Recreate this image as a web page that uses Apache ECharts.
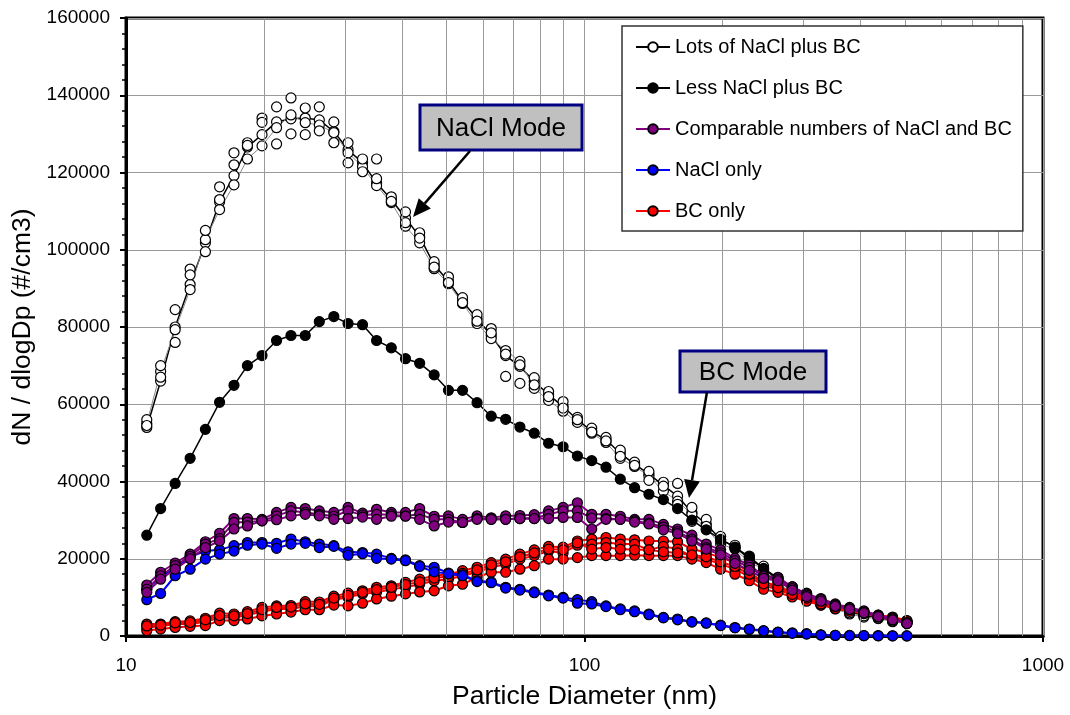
<!DOCTYPE html>
<html>
<head>
<meta charset="utf-8">
<script src="https://cdn.jsdelivr.net/npm/echarts@6/dist/echarts.min.js"></script>
<style>
html,body{margin:0;padding:0;background:#fff;}
#chart{width:1070px;height:715px;}
</style>
</head>
<body>
<div id="chart"></div>
<script>
// Particle diameters (nm)
const diameters = [11.1, 11.9, 12.8, 13.8, 14.9, 16.0, 17.2, 18.4, 19.8, 21.3, 22.9, 24.6, 26.4, 28.4, 30.5, 32.8, 35.2, 37.9, 40.7, 43.7, 47.0, 50.5, 54.2, 58.3, 62.6, 67.3, 72.3, 77.7, 83.5, 89.8, 96.5, 103.7, 111.4, 119.7, 128.6, 138.2, 148.6, 159.6, 171.5, 184.3, 198.1, 212.9, 228.8, 245.8, 264.2, 283.9, 305.1, 327.8, 352.3, 378.6, 406.8, 437.1, 469.8, 504.8];

// Lots of NaCl plus BC (scans)
const lotsA = [54000, 66000, 80000, 91000, 101800, 112400, 119200, 126600, 129800, 133100, 133900, 134100, 133600, 130600, 125900, 122500, 117300, 113000, 108200, 103400, 96100, 91800, 86600, 82200, 77800, 72600, 69800, 65900, 62500, 59400, 56000, 53000, 50800, 47300, 44500, 41900, 39000, 36200, 32000, 29000, 25000, 23000, 20000, 17600, 14400, 12200, 10600, 8600, 7400, 6200, 5400, 4700, 4100, 3500];
const lotsB = [55000, 68500, 79300, 89700, 102600, 110400, 116800, 123500, 126900, 131600, 134900, 132900, 132300, 130300, 125100, 121500, 116600, 112200, 106100, 101800, 95100, 91200, 86100, 80900, 77000, 73900, 71100, 64100, 61000, 58200, 55300, 52500, 50100, 46000, 43900, 41400, 37500, 34900, 31500, 27700, 23800, 22500, 19100, 17300, 13400, 11400, 10300, 8000, 7000, 5700, 4900, 4500, 3700, 3200];
const lotsC = [56000, 70000, 84500, 95000, 105000, 116300, 125100, 127700, 134100, 137000, 139300, 136700, 137000, 133100, 127700, 123500, 118400, 113700, 109800, 104400, 96900, 93000, 87600, 83200, 79600, 67200, 65400, 66900, 63300, 60700, 56600, 53800, 51400, 48100, 45000, 42600, 39800, 39500, 33300, 30200, 25800, 23500, 20700, 18100, 15000, 12700, 11100, 9000, 7800, 6500, 5700, 4900, 4300, 3700];
const lotsD = [54500, 67000, 76000, 93500, 99500, 113000, 122000, 127000, 133000, 127400, 130000, 129800, 130800, 127700, 122500, 120200, 123500, 112500, 107000, 103000, 95500, 91500, 86300, 81500, 78500, 73000, 70200, 65000, 62000, 59000, 56000, 52800, 50500, 46500, 44200, 40300, 38800, 34100, 29700, 28400, 24600, 22800, 19500, 17000, 14000, 11800, 10500, 8300, 7200, 6000, 5200, 4600, 3900, 3300];

// Less NaCl plus BC
const lessA = [26100, 33000, 39500, 46000, 53500, 60500, 64900, 70000, 72600, 76500, 77800, 77800, 81400, 82700, 80900, 80600, 76500, 74600, 71800, 70600, 67600, 63600, 63600, 60400, 56900, 56100, 54100, 52500, 49900, 49000, 46600, 45400, 43700, 40600, 38400, 36700, 35300, 33000, 30000, 27500, 25000, 23000, 20500, 17500, 15000, 12700, 11000, 9200, 7900, 6700, 5800, 5000, 4300, 3700];

// Comparable numbers of NaCl and BC
const compA = [13200, 16500, 18900, 21200, 24400, 26600, 30400, 30400, 30200, 32000, 33300, 33000, 32400, 32000, 33300, 31800, 32800, 32000, 32000, 33000, 31000, 31100, 30200, 31100, 30600, 31100, 31200, 31400, 32400, 33300, 34500, 31500, 31500, 31000, 30200, 30200, 28900, 27700, 26100, 23800, 22300, 20100, 18400, 15600, 15200, 12700, 10900, 9700, 8300, 7400, 6500, 5400, 4600, 3500];
const compB = [12100, 15600, 18200, 20600, 23800, 25200, 29400, 29500, 29800, 31100, 32400, 32000, 31500, 31000, 32400, 31300, 31500, 31400, 31100, 31500, 30200, 30200, 29400, 30400, 30200, 30200, 30400, 30400, 31500, 32400, 32400, 30500, 30400, 30200, 29800, 29200, 28200, 27000, 25100, 22900, 21600, 19500, 17800, 15400, 14700, 12300, 10600, 9400, 8000, 7100, 6200, 5200, 4400, 3400];
const compC = [11300, 14700, 17300, 20000, 22900, 24600, 27700, 28500, 29800, 30100, 31100, 31500, 31100, 30200, 30400, 30800, 30200, 31000, 31000, 30200, 28500, 29500, 29400, 30200, 30200, 30200, 30400, 30400, 30400, 30700, 30700, 27700, 30200, 30200, 29500, 29000, 27500, 26500, 24600, 22500, 21000, 18800, 17000, 14900, 14300, 11900, 10200, 9000, 7700, 6900, 6000, 5000, 4200, 3200];

// NaCl only
const naclA = [12100, 15300, 17500, 20500, 22000, 22300, 23400, 24200, 24200, 24000, 25100, 24400, 23800, 23400, 21800, 21600, 21200, 20100, 19700, 18200, 17800, 16300, 15800, 14300, 14000, 12600, 12100, 11400, 10600, 10000, 9400, 8900, 7800, 7000, 6500, 5700, 4800, 4400, 3700, 3400, 2800, 2200, 1800, 1400, 1000, 800, 600, 300, 200, 150, 100, 80, 50, 30];
const naclB = [9400, 11000, 15600, 17300, 19900, 21200, 22000, 23500, 23800, 22700, 23800, 24000, 22900, 23200, 20900, 21300, 20100, 19900, 19500, 18000, 16600, 16100, 15600, 14100, 13800, 12400, 11900, 11200, 10400, 9800, 8500, 8300, 7600, 6800, 6300, 5500, 4700, 4200, 3600, 3300, 2700, 2100, 1700, 1300, 950, 700, 500, 250, 150, 100, 80, 50, 30, 20];

// BC only
const bcA = [3100, 3100, 3700, 3900, 4600, 5900, 5700, 6300, 7400, 7800, 7900, 8900, 8800, 10300, 11100, 11700, 12600, 13000, 13900, 14700, 15600, 16000, 16900, 17800, 19000, 19900, 21200, 22300, 23200, 23000, 24600, 25100, 25500, 25100, 24900, 24600, 24600, 24400, 22500, 21600, 20300, 19000, 16500, 13900, 13000, 11100, 10100, 8500, 7800, 7000, 6300, 5400, 4900, 4000];
const bcB = [2200, 2500, 3100, 3100, 3700, 4800, 4800, 5400, 6300, 7000, 7000, 7700, 7700, 9400, 10000, 10900, 11300, 12100, 12600, 13400, 14300, 14700, 15600, 16500, 17800, 18600, 19900, 20800, 22000, 21500, 23500, 23800, 24200, 23800, 23800, 22300, 23200, 22500, 20600, 19900, 18600, 17300, 15400, 13000, 12100, 10600, 9500, 8200, 7400, 6700, 6000, 5100, 4600, 3800];
const bcC = [1400, 1800, 2200, 2500, 2700, 4000, 4000, 4400, 5200, 5700, 6200, 6800, 6800, 8000, 7800, 8500, 9600, 10300, 10900, 11400, 11700, 13000, 13400, 15200, 16500, 16500, 17300, 18200, 19900, 19900, 20300, 20800, 20800, 20800, 20900, 20800, 20800, 20800, 19900, 19000, 17300, 16000, 14300, 12100, 11300, 10100, 9000, 8000, 7100, 6400, 5800, 4900, 4300, 3600];
const bcD = [2600, 2800, 3400, 3500, 4200, 5300, 5200, 5800, 6800, 7400, 7500, 8300, 8200, 9800, 10500, 11300, 12000, 12600, 13300, 14000, 15000, 15400, 16200, 17100, 18400, 19200, 20500, 21500, 22500, 22300, 24100, 22500, 22900, 22500, 22300, 22300, 21800, 21500, 21000, 20500, 19200, 18000, 16000, 13500, 12500, 10800, 9800, 8300, 7600, 6800, 6100, 5200, 4700, 3900];

// Legend names
const legendNames = ['Lots of NaCl plus BC', 'Less NaCl plus BC', 'Comparable numbers of NaCl and BC', 'NaCl only', 'BC only'];
// Axis ticks / gridlines
const xTicks = [10, 100, 1000];
const xMinorGrid = [20, 30, 40, 50, 60, 70, 80, 90, 200, 300, 400, 500, 600, 700, 800, 900];
const yTicks = [0, 20000, 40000, 60000, 80000, 100000, 120000, 140000, 160000];

function pairs(arr) { return diameters.map((d, i) => [d, arr[i]]); }

function mk(name, arr, fill, lineColor, lineWidth, showLine, z) {
  return {
    name: name, type: 'line', data: pairs(arr), z: z,
    symbol: 'circle', symbolSize: 10, showAllSymbol: true,
    itemStyle: { color: fill, borderColor: '#000', borderWidth: 1.2 },
    lineStyle: { color: lineColor, width: lineWidth, opacity: showLine ? 1 : 0 },
    emphasis: { disabled: true }, silent: true
  };
}

const FONT = 'Liberation Sans, Arial, sans-serif';
const chart = echarts.init(document.getElementById('chart'), null, { renderer: 'canvas' });

function arrow(x1, y1, x2, y2) {
  const dx = x2 - x1, dy = y2 - y1, L = Math.sqrt(dx * dx + dy * dy);
  const ux = dx / L, uy = dy / L, hl = 18, hw = 8;
  const bx = x2 - ux * hl, by = y2 - uy * hl;
  return [
    { type: 'line', shape: { x1: x1, y1: y1, x2: bx, y2: by }, style: { stroke: '#000', lineWidth: 2.5 }, z: 100 },
    { type: 'polygon', shape: { points: [[x2, y2], [bx - uy * hw, by + ux * hw], [bx + uy * hw, by - ux * hw]] }, style: { fill: '#000' }, z: 100 }
  ];
}

function box(x, y, w, h, text) {
  return [
    { type: 'rect', shape: { x: x, y: y, width: w, height: h }, style: { fill: '#c0c0c0', stroke: '#000080', lineWidth: 3 }, z: 100 },
    { type: 'text', x: x + w / 2, y: y + h / 2 + 1, style: { text: text, fill: '#000', font: '26px ' + FONT, align: 'center', verticalAlign: 'middle' }, z: 101 }
  ];
}

const series = [
  {
    type: 'line', data: [], z: 1, silent: true,
    markLine: {
      silent: true, symbol: 'none', label: { show: false },
      lineStyle: { color: '#999', type: 'solid', width: 1 },
      data: xMinorGrid.map(v => ({ xAxis: v }))
    }
  },
  mk(legendNames[0], lotsA, '#fff', '#000', 1.5, true, 2),
  mk(legendNames[0], lotsB, '#fff', '#888', 1, true, 2),
  mk(legendNames[0], lotsC, '#fff', '#000', 1, false, 2),
  mk(legendNames[0], lotsD, '#fff', '#000', 1, false, 2),
  mk(legendNames[1], lessA, '#000', '#000', 1.5, true, 3),
  mk(legendNames[4], bcA, '#ff0000', '#ff0000', 2, true, 4),
  mk(legendNames[4], bcB, '#ff0000', '#ff0000', 2, true, 4),
  mk(legendNames[4], bcC, '#ff0000', '#ff0000', 2, true, 4),
  mk(legendNames[4], bcD, '#ff0000', '#ff0000', 2, true, 4),
  mk(legendNames[3], naclA, '#0000ff', '#0000ff', 2, true, 5),
  mk(legendNames[3], naclB, '#0000ff', '#0000ff', 2, true, 5),
  mk(legendNames[2], compA, '#800080', '#800080', 2, true, 6),
  mk(legendNames[2], compB, '#800080', '#800080', 2, true, 6),
  mk(legendNames[2], compC, '#800080', '#800080', 2, true, 6)
];

chart.setOption({
  animation: false,
  backgroundColor: '#fff',
  textStyle: { fontFamily: FONT },
  grid: { left: 126, right: 27, top: 18, bottom: 78, show: true, borderColor: '#000', borderWidth: 3, backgroundColor: 'transparent' },
  legend: {
    data: legendNames, orient: 'vertical', left: 622, top: 26,
    padding: [11, 11, 10, 13], itemGap: 21, itemWidth: 34, itemHeight: 12,
    backgroundColor: '#fff', borderColor: '#333', borderWidth: 1.5,
    textStyle: { fontSize: 20, color: '#000', fontFamily: FONT, lineHeight: 20 },
    selectedMode: false, z: 50
  },
  xAxis: {
    type: 'log', logBase: 10, min: xTicks[0], max: xTicks[xTicks.length - 1],
    name: 'Particle Diameter (nm)', nameLocation: 'middle', nameGap: 47,
    nameTextStyle: { fontSize: 26.5, color: '#000', fontFamily: FONT },
    axisLine: { lineStyle: { color: '#000', width: 3 } },
    axisTick: { show: true, length: 6, lineStyle: { color: '#000', width: 2 } },
    axisLabel: { fontSize: 19, color: '#000', margin: 20, fontFamily: FONT, formatter: v => String(v) },
    splitLine: { show: true, lineStyle: { color: '#999', width: 1 } },
    minorTick: { show: false }
  },
  yAxis: {
    type: 'value', min: yTicks[0], max: yTicks[yTicks.length - 1], interval: 20000,
    name: 'dN / dlogDp (#/cm3)', nameLocation: 'middle', nameGap: 77,
    nameTextStyle: { fontSize: 26.5, color: '#000', fontFamily: FONT },
    axisLine: { show: true, lineStyle: { color: '#000', width: 3 } },
    axisTick: { show: true, length: 6, lineStyle: { color: '#000', width: 2 } },
    minorTick: { show: true, splitNumber: 5, length: 4, lineStyle: { color: '#000', width: 1.5 } },
    axisLabel: { fontSize: 19, color: '#000', margin: 16, fontFamily: FONT, formatter: v => String(v) },
    splitLine: { show: true, lineStyle: { color: '#999', width: 1 } }
  },
  series: series,
  graphic: [].concat(
    box(420, 105, 162, 45, 'NaCl Mode'),
    arrow(470, 151, 413, 217),
    box(680, 351, 146, 41, 'BC Mode'),
    arrow(707, 392, 689, 498)
  )
});
</script>
</body>
</html>
